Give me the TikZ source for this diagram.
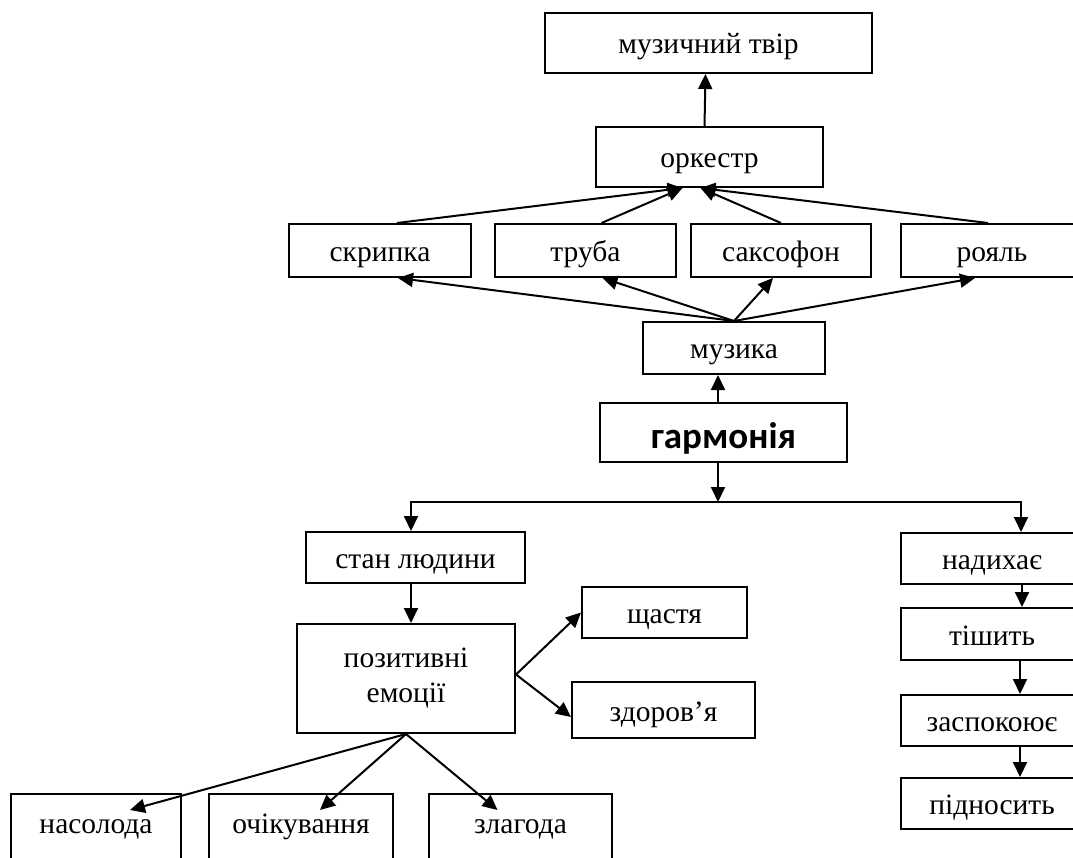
\documentclass[tikz,border=0pt]{standalone}
\usepackage{fontspec}
\setmainfont{Liberation Serif}
\newfontfamily\boldsans{Carlito}
\usetikzlibrary{arrows.meta}
\newcommand{\pxsize}{1pt}
\tikzset{
	box/.style={draw, line width=2pt, inner sep=0pt, minimum height=51pt, text height=24pt, text depth=2pt, font=\fontsize{29.5}{35}\selectfont},
	cutbox/.style={box, anchor=north, text height=39pt, text depth=70pt},
	arr/.style={line width=2pt, -{Triangle[length=15pt,width=14pt]}}
}

\begin{document}
\begin{tikzpicture}[x=\pxsize,y=-\pxsize]
	\useasboundingbox (0,0) rectangle (1073,858);
	\clip (0,0) rectangle (1073,858);

	\node[box, minimum width=327pt, minimum height=60pt] (tvir) at (708.5,43) {музичний твір};
	\node[box, minimum width=227pt, minimum height=60pt] (orkestr) at (709.5,157) {оркестр};
	\node[box, minimum width=182pt, minimum height=53pt] (skrypka) at (380,250.5) {скрипка};
	\node[box, minimum width=181pt, minimum height=53pt] (truba) at (585.5,250.5) {труба};
	\node[box, minimum width=180pt, minimum height=53pt] (saksofon) at (781,250.5) {саксофон};
	\node[box, minimum width=182pt, minimum height=53pt] (royal) at (992,250.5) {рояль};
	\node[box, minimum width=182pt, minimum height=52pt] (muzyka) at (734,348) {музика};
	\node[box, minimum width=247pt, minimum height=59pt, text height=31pt, text depth=0pt, font=\boldsans\bfseries\fontsize{37}{44}\selectfont] (harmonia) at (723.5,432.5) {гармонія};
	\node[box, minimum width=219pt] (stan) at (415.5,557.5) {стан людини};
	\node[box, minimum width=218pt, minimum height=109pt, text height={}, text depth={}, align=center] (pozytyvni) at (406,678.5) {позитивні\\емоції};
	\node[box, minimum width=165pt] (shchastya) at (664.5,612.5) {щастя};
	\node[box, minimum width=183pt, minimum height=56pt] (zdorovya) at (663.5,710) {здоров’я};
	\node[cutbox, minimum width=170pt] (nasoloda) at (96,793) {насолода};
	\node[cutbox, minimum width=184pt] (ochikuvannya) at (301,793) {очікування};
	\node[cutbox, minimum width=183pt] (zlagoda) at (520.5,793) {злагода};
	\node[box, minimum width=182pt] (nadykhaye) at (992,558.5) {надихає};
	\node[box, minimum width=182pt, minimum height=52pt] (tishyt) at (992,634) {тішить};
	\node[box, minimum width=182pt] (zaspokoyuye) at (992,720.5) {заспокоює};
	\node[box, minimum width=182pt] (pidnosyt) at (992,803.5) {підносить};
	\coordinate (split) at (718,502);

	\draw[arr] ([xshift=-5pt]orkestr.north) -- ([xshift=-3pt]tvir.south);
	\draw[arr] ([xshift=17pt]skrypka.north) -- ([xshift=-27pt]orkestr.south);
	\draw[arr] ([xshift=16pt]truba.north) -- ([xshift=-27pt]orkestr.south);
	\draw[arr] (saksofon.north) -- ([xshift=-9pt]orkestr.south);
	\draw[arr] ([xshift=-4pt]royal.north) -- ([xshift=-9pt]orkestr.south);
	\draw[arr] (muzyka.north) -- ([xshift=18pt]skrypka.south);
	\draw[arr] (muzyka.north) -- ([xshift=17pt]truba.south);
	\draw[arr] (muzyka.north) -- ([xshift=-8pt]saksofon.south);
	\draw[arr] (muzyka.north) -- ([xshift=-17pt]royal.south);
	\draw[arr] ([xshift=-5.5pt]harmonia.north) -- ([xshift=-16pt]muzyka.south);
	\draw[arr] ([xshift=-5.5pt]harmonia.south) -- (split);
	\draw[arr] (split) -| ([xshift=-4.5pt]stan.north);
	\draw[arr] (split) -| ([xshift=29pt]nadykhaye.north);
	\draw[arr] ([xshift=-4.5pt]stan.south) -- ([xshift=5pt]pozytyvni.north);
	\draw[arr] ([yshift=4pt]pozytyvni.east) -- (shchastya.west);
	\draw[arr] ([yshift=4pt]pozytyvni.east) -- ([yshift=-7pt]zdorovya.west);
	\draw[arr] (pozytyvni.south) -- ([xshift=34pt,yshift=-17pt]nasoloda.north);
	\draw[arr] (pozytyvni.south) -- ([xshift=19pt,yshift=-17pt]ochikuvannya.north);
	\draw[arr] (pozytyvni.south) -- ([xshift=-23pt,yshift=-17pt]zlagoda.north);
	\draw[arr] ([xshift=30pt]nadykhaye.south) -- ([xshift=30pt]tishyt.north);
	\draw[arr] ([xshift=28pt]tishyt.south) -- ([xshift=28pt]zaspokoyuye.north);
	\draw[arr] ([xshift=28pt]zaspokoyuye.south) -- ([xshift=28pt]pidnosyt.north);
\end{tikzpicture}
\end{document}
